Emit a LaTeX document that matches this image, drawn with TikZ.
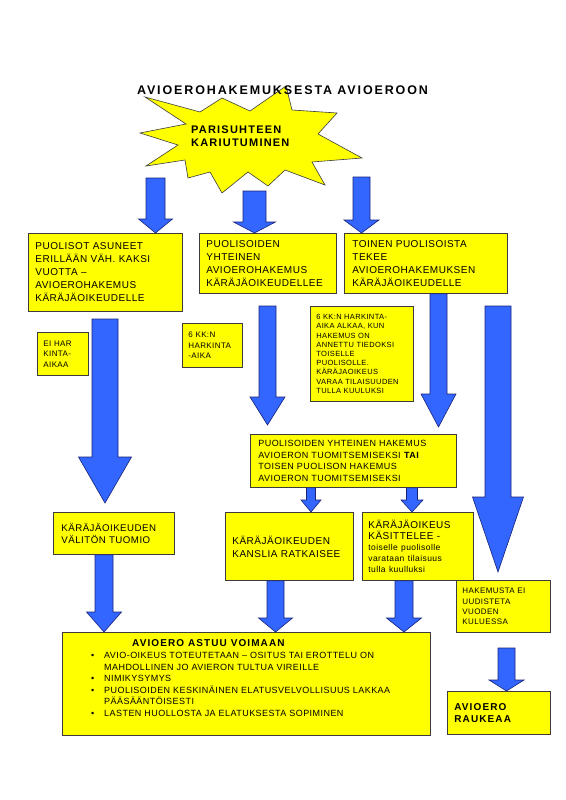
\documentclass[tikz,border=0pt]{standalone}
\usepackage{fontspec}
\setmainfont{Liberation Sans}[LetterSpace=5]
\newfontfamily\bsp{Liberation Sans}[LetterSpace=11]
\newfontfamily\tsp{Liberation Sans}[LetterSpace=15]
\usetikzlibrary{calc}
\definecolor{ayellow}{RGB}{255,255,0}
\definecolor{ablue}{RGB}{51,102,255}
\definecolor{aedge}{RGB}{25,35,120}
\definecolor{bedge}{RGB}{60,60,60}
% block arrow: #1 start (y used), #2 tip, #3 shaft half width, #4 head half width, #5 head length
\newcommand\barrow[5]{\path[blockarrow] let \p1=(#1), \p2=(#2) in
  (\x2-#3,\y1) -- (\x2+#3,\y1) -- (\x2+#3,\y2+#5) -- (\x2+#4,\y2+#5) -- (\x2,\y2)
  -- (\x2-#4,\y2+#5) -- (\x2-#3,\y2+#5) -- cycle;}
\begin{document}
\begin{tikzpicture}[x=1pt,y=-1pt,
  ybox/.style={draw=bedge, fill=ayellow, line width=0.8pt, anchor=north west,
    align=left, inner ysep=0pt, text=black, font=\fontsize{10}{13}\selectfont},
  blockarrow/.style={fill=ablue, draw=aedge, line width=0.6pt, line join=miter},
  starshape/.style={fill=ayellow, draw=bedge, line width=0.6pt, line join=miter}]
\useasboundingbox (0,0) rectangle (565,800);
\fill[white] (0,0) rectangle (565,800);

% starburst
\path[starshape] (140,133) -- (186,124) -- (145,97) -- (200,112) -- (222,98) -- (250,111)
  -- (286,86) -- (292,110) -- (337,113) -- (318,134) -- (362,158) -- (312,162)
  -- (325,185) -- (285,170) -- (268,186) -- (248,172) -- (222,193) -- (210,172)
  -- (188,178) -- (185,160) -- (146,166) -- (178,145) -- cycle;
\node[font=\tsp\bfseries\fontsize{12.5}{14}\selectfont, inner sep=0] (title) at (282.5,90) {AVIOEROHAKEMUKSESTA AVIOEROON};
\node[anchor=west, align=left, inner sep=0, font=\bsp\bfseries\fontsize{11}{12.5}\selectfont] (startext) at (191,136) {PARISUHTEEN\\KARIUTUMINEN};

% boxes
\node[ybox, minimum width=154pt, minimum height=78pt, text width=140pt, inner xsep=7pt] (A) at (28,233)
  {PUOLISOT ASUNEET\\ERILLÄÄN VÄH. KAKSI\\VUOTTA –\\AVIOEROHAKEMUS\\KÄRÄJÄOIKEUDELLE};
\node[ybox, minimum width=137pt, minimum height=60pt, text width=123pt, inner xsep=7pt] (B) at (199,233)
  {PUOLISOIDEN\\YHTEINEN\\AVIOEROHAKEMUS\\KÄRÄJÄOIKEUDELLEE};
\node[ybox, minimum width=163pt, minimum height=60pt, text width=147pt, inner xsep=8pt] (C) at (344,233)
  {TOINEN PUOLISOISTA\\TEKEE\\AVIOEROHAKEMUKSEN\\KÄRÄJÄOIKEUDELLE};
\node[ybox, minimum width=51pt, minimum height=43pt, text width=39pt, inner xsep=6pt, font=\fontsize{8}{10.5}\selectfont] (EI) at (37,332)
  {EI HAR\\KINTA-\\AIKAA};
\node[ybox, minimum width=60pt, minimum height=44pt, text width=48pt, inner xsep=6pt, font=\fontsize{8}{10.3}\selectfont] (KK6) at (182,323)
  {6 KK:N\\HARKINTA\\-AIKA};
\node[ybox, minimum width=103pt, minimum height=95pt, text width=91pt, inner xsep=6pt, font=\fontsize{7.5}{9.2}\selectfont] (KK9) at (310,306)
  {6 KK:N HARKINTA-\\AIKA ALKAA, KUN\\HAKEMUS ON\\ANNETTU TIEDOKSI\\TOISELLE\\PUOLISOLLE.\\KÄRÄJAOIKEUS\\VARAA TILAISUUDEN\\TULLA KUULUKSI};
\node[ybox, minimum width=206pt, minimum height=53pt, text width=190pt, inner xsep=8pt, font=\fontsize{9}{11.5}\selectfont] (D) at (250,434)
  {PUOLISOIDEN YHTEINEN HAKEMUS\\AVIOERON TUOMITSEMISEKSI \textbf{TAI}\\TOISEN PUOLISON HAKEMUS\\AVIOERON TUOMITSEMISEKSI};
\node[ybox, minimum width=121pt, minimum height=42pt, text width=105pt, inner xsep=8pt, font=\fontsize{9.7}{11.5}\selectfont] (E) at (53,512)
  {KÄRÄJÄOIKEUDEN\\VÄLITÖN TUOMIO};
\node[ybox, minimum width=128pt, minimum height=68pt, text width=114pt, inner xsep=7pt, font=\fontsize{10}{13}\selectfont] (F) at (225,512)
  {KÄRÄJÄOIKEUDEN\\KANSLIA RATKAISEE};
\node[ybox, minimum width=111pt, minimum height=68pt, text width=99pt, inner xsep=6pt, font=\fontsize{10}{11}\selectfont] (G) at (362,512)
  {KÄRÄJÄOIKEUS\\KÄSITTELEE -\\\fontsize{8.5}{11}\selectfont toiselle puolisolle\\varataan tilaisuus\\tulla kuulluksi};
\node[ybox, minimum width=94pt, minimum height=52pt, text width=82pt, inner xsep=6pt, font=\fontsize{8}{10.3}\selectfont] (H) at (456,580)
  {HAKEMUSTA EI\\UUDISTETA\\VUODEN\\KULUESSA};
\node[ybox, minimum width=368pt, minimum height=103pt] (I) at (62,632) {};
\node[anchor=west, inner sep=0, font=\bsp\bfseries\fontsize{10}{12}\selectfont] (Ititle) at (132,643) {AVIOERO ASTUU VOIMAAN};
\node[anchor=base west, inner sep=0, font=\fontsize{9}{11.5}\selectfont] (Ilist) at (91,658.5)
  {\begin{tabular}[t]{@{}p{13pt}@{}l@{}}
   \textbullet & AVIO-OIKEUS TOTEUTETAAN – OSITUS TAI EROTTELU ON\\
               & MAHDOLLINEN JO AVIERON TULTUA VIREILLE\\
   \textbullet & NIMIKYSYMYS\\
   \textbullet & PUOLISOIDEN KESKINÄINEN ELATUSVELVOLLISUUS LAKKAA\\
               & PÄÄSÄÄNTÖISESTI\\
   \textbullet & LASTEN HUOLLOSTA JA ELATUKSESTA SOPIMINEN
   \end{tabular}};
\node[ybox, minimum width=103pt, minimum height=43pt, text width=89pt, inner xsep=7pt, font=\bsp\bfseries\fontsize{10}{11.5}\selectfont] (J) at (447,691)
  {AVIOERO\\RAUKEAA};

% block arrows
\barrow{155.5,178}{155.5,0 |- A.north}{9.5pt}{17pt}{14pt}
\barrow{254.5,191}{254.5,0 |- B.north}{11.5pt}{21pt}{11pt}
\barrow{361.5,177}{361.5,0 |- C.north}{8.5pt}{17.5pt}{13pt}
\barrow{105,319}{105,503}{13pt}{26.5pt}{46pt}
\barrow{267.5,306}{267.5,425}{8.5pt}{17.5pt}{28pt}
\barrow{438.5,0 |- C.south}{438.5,427}{8.5pt}{17.5pt}{33pt}
\barrow{498,306}{498,572}{13pt}{25.5pt}{75pt}
\barrow{311,0 |- D.south}{311,0 |- F.north}{4.5pt}{10pt}{12pt}
\barrow{412,0 |- D.south}{412,0 |- G.north}{5.5pt}{11pt}{12pt}
\barrow{104,0 |- E.south}{104,0 |- I.north}{9pt}{17.5pt}{20pt}
\barrow{275.5,0 |- F.south}{275.5,0 |- I.north}{8.5pt}{17pt}{14pt}
\barrow{404,0 |- G.south}{404,0 |- I.north}{9pt}{17.5pt}{14pt}
\barrow{506.5,648}{506.5,0 |- J.north}{8.5pt}{17.5pt}{11pt}
\end{tikzpicture}
\end{document}
